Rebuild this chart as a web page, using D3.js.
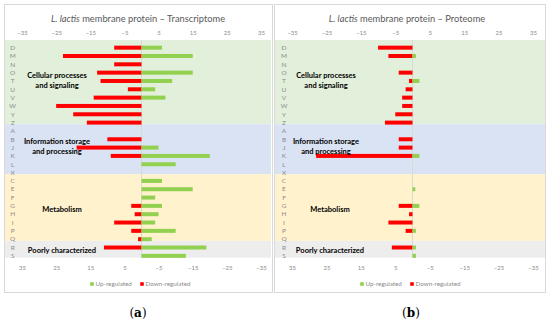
<!DOCTYPE html>
<html><head><meta charset="utf-8">
<script src="https://cdn.jsdelivr.net/npm/d3@7"></script>
<style>body{margin:0;background:#fff}svg{display:block}</style>
</head><body><svg id="c" width="550" height="328"></svg>
<script>
const categories = ["D","M","N","O","T","U","V","W","Y","Z","A","B","J","K","L","X","C","E","F","G","H","I","P","Q","R","S"];
const groups = [
  {name:["Cellular processes","and signaling"], first:"D", last:"Z", color:"#e2efda"},
  {name:["Information storage","and processing"], first:"A", last:"X", color:"#dae3f3"},
  {name:["Metabolism"], first:"C", last:"Q", color:"#fff2cc"},
  {name:["Poorly characterized"], first:"R", last:"S", color:"#ededed"}
];
// Transcriptome
const transUp   = [6,15,0,15,9,4,7,0,0,0, 0,0,5,20,10,0, 6,15,4,6,5,4,10,3, 19,13];
const transDown = [8,23,8,13,12,4,14,25,20,16, 0,10,19,9,0,0, 0,0,0,3,2,8,3,1, 11,0];
// Proteome
const protUp    = [0,1,0,0,2,0,0,0,0,0, 0,0,0,2,0,0, 0,0.8,0,2,0,0,1,0, 1,1];
const protDown  = [10,7,0,4,1,2,3,3,5,8, 0,4,4,28,0,0, 0,0,0,4,1,7,2,0, 6,0];
const topTicks = [-35,-25,-15,-5,5,15,25,35];
const bottomTicks = [35,25,15,5,-5,-15,-25,-35];
const panels = [
  {title:"membrane protein \u2013 Transcriptome", up:transUp, down:transDown, caption:"a"},
  {title:"membrane protein \u2013 Proteome", up:protUp, down:protDown, caption:"b"}
];
const legendLabels = ["Up-regulated","Down-regulated"];
const upColor = "#92d050", downColor = "#ff0000";

const svg = d3.select("#c");
const font = "Lato, 'Liberation Sans', sans-serif";

const layouts = [
  {x0:4, x1:273, xl:22, xr:261, cat:12.7, bgL:5, bgR:271, title:138, leg:92, leg2:142, cap:138},
  {x0:274, x1:546, xl:292, xr:533, cat:284, bgL:275, bgR:545, title:407, leg:362, leg2:412, cap:411}
];
const labX = [[57,57,62,62],[326,326,330,330]];
const labShift = [-4.7, -5.5, -1, -1];

const y = d3.scaleBand().domain(categories).range([43.5, 260]);

panels.forEach((p, i) => {
  const L = layouts[i];
  const g = svg.append("g");
  g.append("rect").attr("x", L.x0+0.5).attr("y", 4.5).attr("width", L.x1-L.x0-1).attr("height", 288)
    .attr("fill", "#fff").attr("stroke", "#d9d9d9").attr("stroke-width", 1);
  const x = d3.scaleLinear().domain([-35, 35]).range([L.xl, L.xr]);
  const xb = d3.scaleLinear().domain([35, -35]).range([L.xl, L.xr]);
  // bands
  groups.forEach((gr, k) => {
    const top = k === 0 ? 40 : y(gr.first) - 2.5;
    const bot = k === groups.length-1 ? 257.7 : y(categories[categories.indexOf(gr.last)+1]) - 2.5;
    g.append("rect").attr("x", L.bgL).attr("y", top).attr("width", L.bgR-L.bgL).attr("height", bot-top).attr("fill", gr.color);
  });
  // zero line
  g.append("line").attr("x1", x(0)).attr("x2", x(0)).attr("y1", 40).attr("y2", 257.7).attr("stroke", "#d9d9d9").attr("stroke-width", 1);
  // bars
  const bh = 4;
  g.selectAll(".dn").data(categories.map((c, j) => ({c, v:p.down[j]})).filter(d => d.v > 0)).join("rect")
    .attr("x", d => x(-d.v)).attr("width", d => x(0) - x(-d.v))
    .attr("y", d => y(d.c) + y.bandwidth()/2 - bh/2).attr("height", bh).attr("fill", downColor);
  g.selectAll(".up").data(categories.map((c, j) => ({c, v:p.up[j]})).filter(d => d.v > 0)).join("rect")
    .attr("x", x(0)).attr("width", d => x(d.v) - x(0))
    .attr("y", d => y(d.c) + y.bandwidth()/2 - bh/2).attr("height", bh).attr("fill", upColor);
  // category labels
  g.selectAll(".cat").data(categories).join("text")
    .attr("x", L.cat).attr("y", d => y(d) + y.bandwidth()/2).attr("dy", "0.35em")
    .attr("text-anchor", "middle").attr("font-family", font).attr("font-size", 6.5).attr("fill", "#8c8c8c").text(d => d);
  // axes
  const topAxis = d3.axisTop(x).tickValues(topTicks).tickSize(0).tickPadding(0);
  const ta = g.append("g").attr("transform", "translate(0,35)").call(topAxis);
  ta.select(".domain").remove();
  ta.selectAll("text").attr("font-family", font).attr("font-size", 6).attr("fill", "#8c8c8c");
  const botAxis = d3.axisBottom(xb).tickValues(bottomTicks).tickSize(0).tickPadding(0);
  const ba = g.append("g").attr("transform", "translate(0,266)").call(botAxis);
  ba.select(".domain").remove();
  ba.selectAll("text").attr("font-family", font).attr("font-size", 6).attr("fill", "#8c8c8c");
  // group labels
  groups.forEach((gr, k) => {
    const cy = (y(gr.first) + y(gr.last) + y.bandwidth())/2 + labShift[k];
    const t = g.append("text").attr("text-anchor", "middle").attr("font-family", font)
      .attr("font-weight", "bold").attr("font-size", 7.5).attr("fill", "#000");
    const n = gr.name.length;
    gr.name.forEach((ln, m) => {
      t.append("tspan").attr("x", labX[i][k]).attr("y", cy + (m - (n-1)/2) * 9.3).attr("dy", "0.35em").text(ln);
    });
  });
  // title
  const tt = g.append("text").attr("x", L.title).attr("y", 19).attr("dy", "0.35em").attr("text-anchor", "middle")
    .attr("font-family", font).attr("font-size", 9.3).attr("fill", "#595959");
  tt.append("tspan").attr("font-style", "italic").text("L. lactis");
  tt.append("tspan").text(" " + p.title);
  // legend
  const lg = g.append("g").attr("transform", "translate(0,284)");
  [[L.leg, upColor, legendLabels[0]], [L.leg2, downColor, legendLabels[1]]].forEach(([lx, col, txt]) => {
    lg.append("rect").attr("x", lx - 1.8).attr("y", -1.8).attr("width", 3.6).attr("height", 3.6).attr("fill", col);
    lg.append("text").attr("x", lx + 3.5).attr("y", 0).attr("dy", "0.35em").attr("font-family", font)
      .attr("font-size", 6.3).attr("fill", "#8c8c8c").text(txt);
  });
  // caption
  const cp = svg.append("text").attr("x", L.cap).attr("y", 313).attr("dy", "0.35em").attr("text-anchor", "middle")
    .attr("font-family", "'DejaVu Serif', 'Liberation Serif', serif").attr("font-size", 12).attr("fill", "#000");
  cp.append("tspan").text("(");
  cp.append("tspan").attr("font-weight", "bold").text(p.caption);
  cp.append("tspan").text(")");
});
</script></body></html>
